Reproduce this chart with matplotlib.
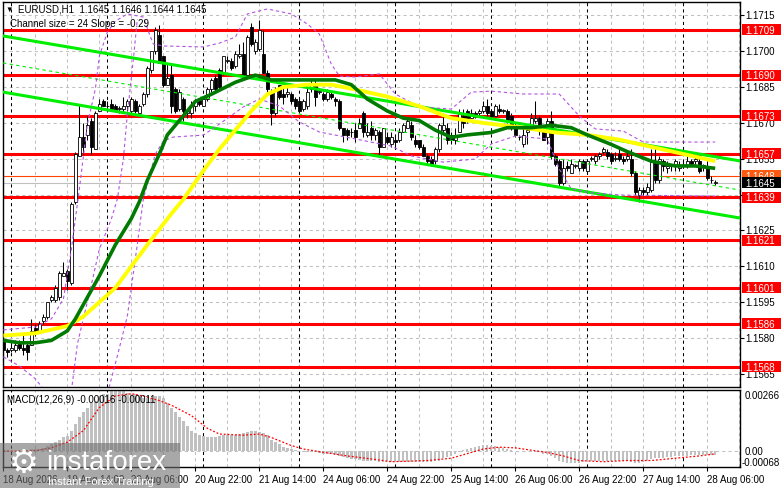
import matplotlib
matplotlib.use("Agg")
import matplotlib.pyplot as plt
import matplotlib.transforms as mtransforms
from matplotlib.patches import Rectangle

plt.rcParams['font.family'] = ['Liberation Sans', 'DejaVu Sans']

# --- EURUSD H1 candles ---
opens = [1.1579, 1.1575, 1.1575, 1.1575, 1.1578, 1.1576, 1.1577, 1.1577, 1.1584, 1.1583,
         1.1587, 1.1589, 1.1596, 1.1596, 1.1597, 1.1606, 1.1608, 1.1603, 1.1637, 1.1656,
         1.1664, 1.1665, 1.1671, 1.1659, 1.1675, 1.1679, 1.1677, 1.1678, 1.1677, 1.1676,
         1.1676, 1.1677, 1.1675, 1.1679, 1.1674, 1.1678, 1.1682, 1.1692, 1.1700, 1.1707,
         1.1698, 1.1686, 1.1690, 1.1684, 1.1676, 1.1680, 1.1674, 1.1674, 1.1677, 1.1680,
         1.1677, 1.1680, 1.1684, 1.1689, 1.1692, 1.1691, 1.1696, 1.1696, 1.1694, 1.1698,
         1.1699, 1.1690, 1.1710, 1.1700, 1.1701, 1.1699, 1.1691, 1.1683, 1.1674, 1.1686,
         1.1682, 1.1682, 1.1682, 1.1680, 1.1679, 1.1676, 1.1677, 1.1684, 1.1686, 1.1683,
         1.1682, 1.1680, 1.1682, 1.1680, 1.1679, 1.1668, 1.1667, 1.1666, 1.1667, 1.1668,
         1.1674, 1.1665, 1.1668, 1.1665, 1.1666, 1.1660, 1.1664, 1.1661, 1.1663, 1.1663,
         1.1666, 1.1668, 1.1669, 1.1663, 1.1663, 1.1660, 1.1656, 1.1655, 1.1654, 1.1659,
         1.1667, 1.1668, 1.1665, 1.1663, 1.1666, 1.1673, 1.1675, 1.1672, 1.1674, 1.1674,
         1.1675, 1.1677, 1.1675, 1.1673, 1.1676, 1.1675, 1.1675, 1.1673, 1.1669, 1.1664,
         1.1661, 1.1666, 1.1668, 1.1671, 1.1672, 1.1667, 1.1664, 1.1671, 1.1656, 1.1654,
         1.1645, 1.1652, 1.1649, 1.1652, 1.1651, 1.1654, 1.1650, 1.1655, 1.1654, 1.1656,
         1.1658, 1.1658, 1.1657, 1.1655, 1.1657, 1.1655, 1.1655, 1.1655, 1.1649, 1.1640,
         1.1642, 1.1641, 1.1642, 1.1654, 1.1646, 1.1654, 1.1651, 1.1652, 1.1652, 1.1651,
         1.1652, 1.1652, 1.1654, 1.1654, 1.1654, 1.1652, 1.1652, 1.1646, 1.1645]
highs = [1.1580, 1.1576, 1.1578, 1.1579, 1.1579, 1.1582, 1.1578, 1.1588, 1.1586, 1.1587,
         1.1590, 1.1595, 1.1598, 1.1602, 1.1608, 1.1612, 1.1609, 1.1637, 1.1658, 1.1678,
         1.1670, 1.1673, 1.1672, 1.1675, 1.1680, 1.1680, 1.1679, 1.1680, 1.1678, 1.1677,
         1.1681, 1.1680, 1.1681, 1.1680, 1.1678, 1.1683, 1.1694, 1.1700, 1.1710, 1.1711,
         1.1698, 1.1695, 1.1695, 1.1685, 1.1684, 1.1681, 1.1676, 1.1679, 1.1680, 1.1680,
         1.1681, 1.1685, 1.1689, 1.1690, 1.1693, 1.1698, 1.1698, 1.1697, 1.1700, 1.1703,
         1.1704, 1.1707, 1.1712, 1.1705, 1.1713, 1.1709, 1.1692, 1.1684, 1.1685, 1.1686,
         1.1685, 1.1685, 1.1683, 1.1681, 1.1680, 1.1680, 1.1685, 1.1688, 1.1688, 1.1684,
         1.1683, 1.1684, 1.1683, 1.1681, 1.1680, 1.1668, 1.1668, 1.1668, 1.1670, 1.1672,
         1.1675, 1.1670, 1.1671, 1.1668, 1.1667, 1.1668, 1.1666, 1.1666, 1.1665, 1.1668,
         1.1670, 1.1672, 1.1671, 1.1665, 1.1663, 1.1661, 1.1657, 1.1656, 1.1660, 1.1670,
         1.1674, 1.1670, 1.1666, 1.1668, 1.1676, 1.1676, 1.1676, 1.1676, 1.1675, 1.1676,
         1.1679, 1.1680, 1.1676, 1.1678, 1.1678, 1.1676, 1.1676, 1.1674, 1.1670, 1.1665,
         1.1668, 1.1668, 1.1674, 1.1679, 1.1673, 1.1668, 1.1672, 1.1675, 1.1657, 1.1655,
         1.1655, 1.1654, 1.1655, 1.1653, 1.1655, 1.1655, 1.1655, 1.1656, 1.1657, 1.1658,
         1.1660, 1.1659, 1.1658, 1.1658, 1.1659, 1.1656, 1.1658, 1.1659, 1.1650, 1.1643,
         1.1643, 1.1645, 1.1659, 1.1660, 1.1656, 1.1655, 1.1654, 1.1653, 1.1655, 1.1654,
         1.1654, 1.1656, 1.1655, 1.1656, 1.1656, 1.1653, 1.1654, 1.1648, 1.1646]
lows = [1.1573, 1.1572, 1.1574, 1.1574, 1.1575, 1.1573, 1.1571, 1.1577, 1.1581, 1.1583,
        1.1586, 1.1588, 1.1595, 1.1595, 1.1596, 1.1606, 1.1600, 1.1602, 1.1636, 1.1656,
        1.1657, 1.1663, 1.1657, 1.1659, 1.1675, 1.1677, 1.1676, 1.1675, 1.1675, 1.1674,
        1.1674, 1.1675, 1.1674, 1.1674, 1.1673, 1.1677, 1.1681, 1.1691, 1.1699, 1.1695,
        1.1685, 1.1686, 1.1674, 1.1674, 1.1675, 1.1671, 1.1672, 1.1672, 1.1675, 1.1677,
        1.1677, 1.1679, 1.1683, 1.1683, 1.1684, 1.1690, 1.1695, 1.1692, 1.1693, 1.1697,
        1.1688, 1.1690, 1.1702, 1.1699, 1.1700, 1.1691, 1.1683, 1.1669, 1.1673, 1.1680,
        1.1678, 1.1681, 1.1678, 1.1676, 1.1674, 1.1675, 1.1676, 1.1683, 1.1677, 1.1682,
        1.1679, 1.1679, 1.1680, 1.1677, 1.1667, 1.1662, 1.1663, 1.1664, 1.1662, 1.1668,
        1.1664, 1.1664, 1.1663, 1.1663, 1.1656, 1.1660, 1.1661, 1.1660, 1.1660, 1.1662,
        1.1666, 1.1668, 1.1663, 1.1660, 1.1659, 1.1656, 1.1653, 1.1652, 1.1653, 1.1658,
        1.1666, 1.1661, 1.1661, 1.1661, 1.1666, 1.1668, 1.1670, 1.1672, 1.1672, 1.1673,
        1.1674, 1.1673, 1.1672, 1.1673, 1.1674, 1.1674, 1.1670, 1.1667, 1.1664, 1.1663,
        1.1660, 1.1661, 1.1667, 1.1670, 1.1665, 1.1663, 1.1661, 1.1655, 1.1652, 1.1643,
        1.1644, 1.1650, 1.1649, 1.1651, 1.1650, 1.1650, 1.1649, 1.1654, 1.1653, 1.1655,
        1.1657, 1.1655, 1.1653, 1.1654, 1.1654, 1.1653, 1.1654, 1.1648, 1.1640, 1.1637,
        1.1640, 1.1640, 1.1641, 1.1645, 1.1645, 1.1650, 1.1649, 1.1650, 1.1650, 1.1650,
        1.1651, 1.1651, 1.1652, 1.1653, 1.1649, 1.1650, 1.1646, 1.1645, 1.1644]
closes = [1.1575, 1.1574, 1.1576, 1.1577, 1.1576, 1.1575, 1.1574, 1.1583, 1.1582, 1.1586,
          1.1589, 1.1595, 1.1597, 1.1601, 1.1607, 1.1607, 1.1604, 1.1636, 1.1657, 1.1664,
          1.1660, 1.1669, 1.1660, 1.1674, 1.1678, 1.1677, 1.1677, 1.1676, 1.1675, 1.1676,
          1.1677, 1.1679, 1.1680, 1.1675, 1.1677, 1.1682, 1.1693, 1.1700, 1.1709, 1.1695,
          1.1686, 1.1689, 1.1677, 1.1675, 1.1683, 1.1675, 1.1675, 1.1677, 1.1679, 1.1678,
          1.1680, 1.1684, 1.1688, 1.1684, 1.1685, 1.1698, 1.1696, 1.1693, 1.1699, 1.1699,
          1.1689, 1.1706, 1.1703, 1.1704, 1.1709, 1.1691, 1.1684, 1.1674, 1.1684, 1.1681,
          1.1681, 1.1683, 1.1679, 1.1677, 1.1675, 1.1679, 1.1683, 1.1686, 1.1681, 1.1683,
          1.1680, 1.1683, 1.1681, 1.1679, 1.1668, 1.1665, 1.1665, 1.1666, 1.1664, 1.1670,
          1.1666, 1.1666, 1.1665, 1.1667, 1.1660, 1.1668, 1.1662, 1.1664, 1.1662, 1.1666,
          1.1669, 1.1671, 1.1664, 1.1661, 1.1660, 1.1656, 1.1654, 1.1653, 1.1659, 1.1669,
          1.1669, 1.1663, 1.1663, 1.1665, 1.1674, 1.1670, 1.1671, 1.1674, 1.1673, 1.1675,
          1.1677, 1.1674, 1.1673, 1.1677, 1.1675, 1.1675, 1.1671, 1.1668, 1.1665, 1.1664,
          1.1665, 1.1667, 1.1672, 1.1672, 1.1667, 1.1663, 1.1671, 1.1656, 1.1653, 1.1645,
          1.1651, 1.1651, 1.1653, 1.1652, 1.1654, 1.1651, 1.1654, 1.1655, 1.1656, 1.1657,
          1.1659, 1.1656, 1.1654, 1.1655, 1.1655, 1.1654, 1.1656, 1.1649, 1.1641, 1.1642,
          1.1641, 1.1643, 1.1654, 1.1646, 1.1655, 1.1652, 1.1652, 1.1652, 1.1654, 1.1652,
          1.1652, 1.1654, 1.1653, 1.1655, 1.1650, 1.1652, 1.1647, 1.1646, 1.1645]

# moving averages, sampled along the chart
yellow_bars = [0, 8, 16, 20, 24, 28, 32, 36, 42, 45, 50, 54, 58, 62, 66, 70, 76, 82, 88, 96,
               104, 112, 120, 130, 138, 146, 154, 162, 170, 178]
yellow_ma = [1.1581, 1.1582, 1.1585, 1.1589, 1.1595, 1.1601, 1.1610, 1.1619, 1.1632, 1.1638,
             1.1650, 1.1659, 1.1667, 1.1675, 1.1682, 1.1685, 1.1686, 1.1686, 1.1684, 1.1681,
             1.1677, 1.1672, 1.1670, 1.1668, 1.1666, 1.1665, 1.1663, 1.1660, 1.1657, 1.1654]
green_bars = [0, 4, 8, 12, 16, 18, 20, 24, 28, 32, 34, 36, 39, 41, 44, 48, 52, 58, 63, 67,
              74, 83, 87, 91, 96, 100, 104, 108, 112, 116, 122, 126, 132, 137, 142, 146, 152,
              156, 162, 168, 173, 178]
green_ma = [1.1579, 1.1578, 1.1578, 1.1579, 1.1583, 1.1588, 1.1594, 1.1606, 1.1619, 1.1630,
            1.1637, 1.1646, 1.1657, 1.1665, 1.1671, 1.1679, 1.1682, 1.1687, 1.1690, 1.1688,
            1.1688, 1.1688, 1.1686, 1.1680, 1.1675, 1.1672, 1.1671, 1.1667, 1.1664, 1.1665,
            1.1666, 1.1668, 1.1668, 1.1669, 1.1668, 1.1665, 1.1661, 1.1658, 1.1654, 1.1652,
            1.1652, 1.1651]

# band lines (purple dashed)
upper_bars = [0, 8, 12, 15, 17, 19, 21, 23, 24, 26, 28, 31, 35, 36.5, 37.5, 40, 50, 54, 58, 61,
              66, 72, 76, 79, 82, 84, 88, 94, 98, 104, 112, 117, 122, 130, 139, 144, 148, 155,
              160, 178]
upper_band = [1.15834, 1.15846, 1.15880, 1.15963, 1.16172, 1.16424, 1.16695, 1.16842, 1.16980,
              1.17080, 1.17126, 1.17156, 1.17143, 1.17072, 1.17030, 1.17022, 1.17018, 1.17034,
              1.17059, 1.17156, 1.17177, 1.17156, 1.17114, 1.17072, 1.16946, 1.16896, 1.16892,
              1.16905, 1.16821, 1.16767, 1.16758, 1.16829, 1.16833, 1.16821, 1.16821, 1.16729,
              1.16675, 1.16666, 1.16620, 1.16620]
mid_bars = [17, 18.5, 21.75, 24, 27, 28.5, 30, 31, 32.5, 33.5]
mid_band = [1.15578, 1.15775, 1.16005, 1.16172, 1.16298, 1.16382, 1.16549, 1.16737, 1.16967,
            1.17135]
lower_bars = [0, 4, 8, 11, 14, 24, 26, 28.5, 31, 33.5, 35, 38, 40, 42.5, 50, 54, 60, 64, 69, 74,
              79, 88, 97, 102, 110, 118, 122, 128, 136, 139, 142, 147, 155, 178]
lower_band = [1.15721, 1.15683, 1.15629, 1.15566, 1.15461, 1.15461, 1.15566, 1.15725, 1.15892,
              1.16193, 1.16382, 1.16570, 1.16624, 1.16641, 1.16649, 1.16695, 1.16767, 1.16800,
              1.16771, 1.16704, 1.16662, 1.16633, 1.16603, 1.16562, 1.16536, 1.16549, 1.16612,
              1.16645, 1.16633, 1.16507, 1.16424, 1.16407, 1.16398, 1.16394]

# regression channel (start / end of each line)
chan_bars = [-0.1, 184.2]
chan_upper = [1.17064, 1.16541]
chan_mid = [1.16951, 1.16419]
chan_lower = [1.16829, 1.16302]

# horizontal levels
levels = [1.1709, 1.1690, 1.1673, 1.1657, 1.1639, 1.1621, 1.1601, 1.1586, 1.1568]
ask_level = 1.1648
bid_level = 1.1645
price_ticks = [1.1565, 1.1580, 1.1595, 1.1610, 1.1625, 1.1640, 1.1655, 1.1670, 1.1685,
               1.1700, 1.1715]
hidden_ticks = [1.1640]  # fully covered by the 1.1639 label

# MACD(12,26,9)
macd_hist = [0.00005, 0.00005, 0.00003, 0.00003, 0.00003, 0.00002, 0.00002, 0.00008, 0.0001, 0.00012,
             0.00016, 0.00024, 0.00032, 0.0004, 0.0005, 0.0006, 0.00065, 0.0009, 0.0012, 0.0015,
             0.0017, 0.0019, 0.0021, 0.0022, 0.0024, 0.0025, 0.0025, 0.0026, 0.0026, 0.0026,
             0.0026, 0.00255, 0.0025, 0.0025, 0.0024, 0.0023, 0.0023, 0.0023, 0.0024, 0.0024,
             0.0023, 0.0021, 0.0019, 0.0017, 0.0015, 0.0013, 0.0011, 0.0009, 0.0008, 0.0007,
             0.00065, 0.0006, 0.0006, 0.0006, 0.00065, 0.0007, 0.0007, 0.0007, 0.0007, 0.00075,
             0.0008, 0.00085, 0.0009, 0.0009, 0.00085, 0.0008, 0.0007, 0.0005, 0.0004, 0.0003,
             0.0002, 0.00015, 0.0001, 0.00005, 0.0, -0.00003, -0.00005, -0.00005, -0.00005, -0.00008,
             -0.0001, -0.0001, -0.00012, -0.00015, -0.0002, -0.00025, -0.0003, -0.00033, -0.00035, -0.00038,
             -0.0004, -0.0004, -0.00042, -0.00043, -0.00045, -0.00045, -0.00045, -0.00045, -0.00045, -0.00045,
             -0.00045, -0.00045, -0.00045, -0.00045, -0.00045, -0.00045, -0.00045, -0.00045, -0.00042, -0.0004,
             -0.0003, -0.00025, -0.0002, -0.0001, -0.00005, 0.00005, 0.0001, 0.00015, 0.0002, 0.00025,
             0.00027, 0.00027, 0.00025, 0.00022, 0.0002, 0.00015, 0.0001, 0.00005, 0.0, 0.0,
             0.0, 0.0, -0.00003, -0.00005, -0.00005, -0.0001, -0.0001, -0.0002, -0.0003, -0.0004,
             -0.00045, -0.0005, -0.0005, -0.0005, -0.0005, -0.00045, -0.0004, -0.0004, -0.0004, -0.0004,
             -0.0004, -0.0004, -0.0004, -0.0004, -0.0004, -0.0004, -0.00042, -0.00045, -0.0005, -0.0005,
             -0.00045, -0.0004, -0.00035, -0.0003, -0.0003, -0.0003, -0.00025, -0.00025, -0.0002, -0.0002,
             -0.0002, -0.0002, -0.00018, -0.00018, -0.00018, -0.00016, -0.00016, -0.00016, -0.00016]
signal_bars = [0, 8, 12, 16, 20, 24, 28, 32, 35, 39, 42, 47, 51, 54, 60, 64, 67, 72, 75, 80,
               86, 92, 97, 106, 112, 116, 120, 124, 128, 132, 136, 140, 144, 150, 156, 162, 168,
               174, 178]
signal = [0.0, 0.00003, 0.00015, 0.0004, 0.0009, 0.0019, 0.0024, 0.0025, 0.0024, 0.0022,
          0.0020, 0.00155, 0.0010, 0.00075, 0.0007, 0.00075, 0.0006, 0.00025, 0.0001, -0.00004,
          -0.0002, -0.00033, -0.00045, -0.0004, -0.0003, -0.0001, 0.0001, 0.00018, 0.00015, 0.00005,
          -0.00005, -0.0002, -0.0004, -0.00045, -0.0004, -0.0004, -0.0003, -0.0002, -0.00011]

time_labels = ["18 Aug 2026", "19 Aug 14:00", "20 Aug 06:00", "20 Aug 22:00", "21 Aug 14:00",
               "24 Aug 06:00", "24 Aug 22:00", "25 Aug 14:00", "26 Aug 06:00", "26 Aug 22:00",
               "27 Aug 14:00", "28 Aug 06:00"]
label_bars = [0, 16, 32, 48, 64, 80, 96, 112, 128, 144, 160, 176]
day_bars = [2, 26, 50, 74, 98, 122, 146, 170]

W, H = 781, 489
fig = plt.figure(figsize=(W / 100, H / 100), dpi=100)


def frame(x0, y0, x1, y1):
    return [x0 / W, 1 - y1 / H, (x1 - x0) / W, (y1 - y0) / H]


ax = fig.add_axes(frame(3, 3, 740, 388))
axm = fig.add_axes(frame(3, 391, 740, 468), sharex=ax)
ax.set_xlim(-0.1, 184.2)
ax.set_ylim(1.15595, 1.17206)
axm.set_ylim(-0.00068, 0.00266)

grid_kw = dict(color='#c0c0c0', lw=0.75, ls=(0, (3, 3)), zorder=0.5)
for a in (ax, axm):
    for b in range(0, 185, 8):
        a.axvline(b, **grid_kw)
    for b in day_bars:
        a.axvline(b, color='black', lw=0.75, ls=(0, (3, 3)), zorder=0.6)
    for s in a.spines.values():
        s.set_linewidth(1.0)
for p in price_ticks:
    ax.axhline(p, **grid_kw)
axm.axhline(0.0, **grid_kw)

# levels
for lv in levels:
    ax.axhline(lv, color='#ff0000', lw=2.2, zorder=1)
ax.axhline(ask_level, color='#ff4500', lw=0.8, zorder=1)
ax.axhline(bid_level, color='#c0c0c0', lw=0.8, zorder=1)

# candles
idx = list(range(len(closes)))
ax.vlines(idx, lows, highs, color='black', lw=0.75, zorder=2)
for i in idx:
    o, c = opens[i], closes[i]
    bottom = min(o, c)
    height = max(abs(c - o), 0.00002)
    face = 'white' if c >= o else 'black'
    ax.bar(i, height, bottom=bottom, width=0.72, color=face, edgecolor='black',
           linewidth=0.6, zorder=2.1)

# channel
ax.plot(chan_bars, chan_upper, color='#00ee00', lw=2.2, zorder=3)
ax.plot(chan_bars, chan_lower, color='#00ee00', lw=2.2, zorder=3)
ax.plot(chan_bars, chan_mid, color='#00ee00', lw=0.8, ls=(0, (3, 3)), zorder=3)

# bands
band_kw = dict(color='#b455e0', lw=0.8, ls=(0, (3, 2.5)), zorder=3)
ax.plot(upper_bars, upper_band, **band_kw)
ax.plot(mid_bars, mid_band, **band_kw)
ax.plot(lower_bars, lower_band, **band_kw)

# moving averages
ax.plot(yellow_bars, yellow_ma, color='#ffff00', lw=2.8, zorder=3.2, solid_capstyle='butt')
ax.plot(green_bars, green_ma, color='#007a00', lw=2.6, zorder=3.3, solid_capstyle='butt')

# price scale
ax.set_yticks(price_ticks)
ax.tick_params(axis='y', left=False, right=True, labelleft=False, length=3, width=0.8)
ax.tick_params(axis='x', bottom=False, labelbottom=False)
trans = mtransforms.blended_transform_factory(ax.transAxes, ax.transData)
px = 1.0 / 737
for p in price_ticks:
    if p in hidden_ticks:
        continue
    ax.text(1 + 5 * px, p, '%.4f' % p, transform=trans, ha='left', va='center',
            fontsize=7, color='black', clip_on=False, zorder=5)

box_h = 11 * 0.0000418


def price_box(p, fc, z):
    ax.add_patch(Rectangle((1 + 1.5 * px, p - box_h / 2), 39 * px, box_h, transform=trans,
                           facecolor=fc, edgecolor='none', clip_on=False, zorder=z))
    ax.text(1 + 5 * px, p, '%.4f' % p, transform=trans, ha='left', va='center',
            fontsize=7, color='white', clip_on=False, zorder=z + 0.1)


for lv in levels:
    price_box(lv, '#ff0000', 10)
price_box(ask_level, '#ff5a10', 11)
price_box(bid_level, 'black', 12)

# MACD panel
axm.bar(idx, macd_hist, width=0.6, color='#c0c0c0', zorder=1)
axm.plot(signal_bars, signal, color='#ff0000', lw=0.9, ls=(0, (1.5, 1.5)), zorder=2)
axm.set_yticks([])
axm.set_xticks(label_bars)
axm.set_xticklabels(time_labels, ha='left', fontsize=7)
axm.tick_params(axis='x', length=3, width=0.8, pad=2)
transm = mtransforms.blended_transform_factory(axm.transAxes, axm.transData)
axm.text(1 + 5 * px, 0.00266, '0.00266', transform=transm, ha='left', va='top', fontsize=7,
         clip_on=False)
axm.text(1 + 5 * px, 0.0, '0.00', transform=transm, ha='left', va='center', fontsize=7,
         clip_on=False)
axm.text(1 + 2 * px, -0.00068, '-0.00068', transform=transm, ha='left', va='bottom', fontsize=7,
         clip_on=False)

# header texts
fig.text(5 / W, 1 - 10 / H, '\u25bc', fontsize=5.5, va='center', ha='left')
fig.text(18 / W, 1 - 10 / H, 'EURUSD,H1  1.1645 1.1646 1.1644 1.1645', fontsize=7,
         va='center', ha='left')
fig.text(10 / W, 1 - 24 / H, 'Channel size = 24 Slope = -0.29', fontsize=7,
         va='center', ha='left')
fig.text(7 / W, 1 - 400 / H, 'MACD(12,26,9) -0.00016 -0.00011', fontsize=7,
         va='center', ha='left')

# watermark
fig.patches.append(Rectangle((0, 0), 180 / W, 45 / H, transform=fig.transFigure,
                             facecolor='#6f6f6f', alpha=0.6, edgecolor='none', zorder=20))
fig.text(24 / W, 1 - 463 / H, '\u2699', fontsize=24, color='white', ha='center', va='center',
         family='DejaVu Sans', zorder=21)
fig.text(46 / W, 1 - 463 / H, 'instaforex', fontsize=20, color='white', ha='left',
         va='center', zorder=21)
fig.text(48 / W, 1 - 482 / H, 'Instant Forex Trading', fontsize=8, color='white', ha='left',
         va='center', zorder=21)

fig.savefig('out.png', dpi=100)
